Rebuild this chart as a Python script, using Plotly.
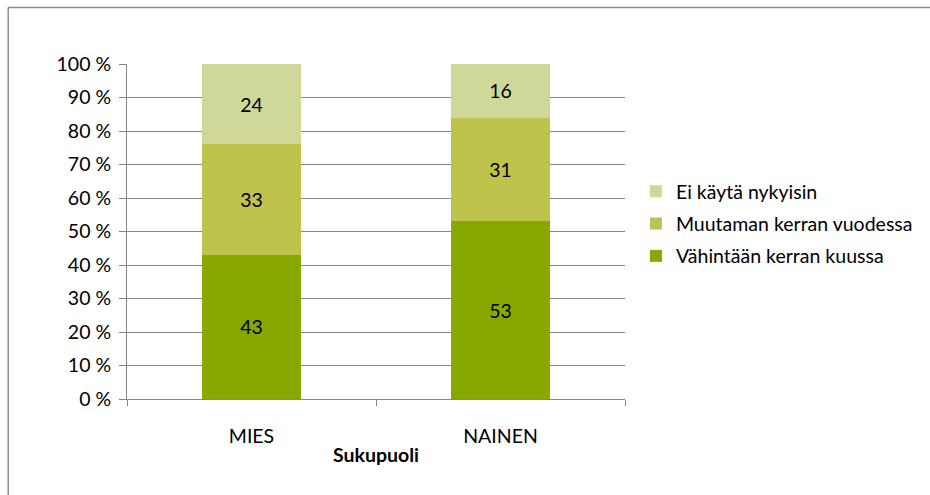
import plotly.graph_objects as go

categories = ["MIES", "NAINEN"]
series_names = ["Vähintään kerran kuussa", "Muutaman kerran vuodessa", "Ei käytä nykyisin"]
vahintaan = [43, 53]
muutaman = [33, 31]
ei_kayta = [24, 16]
colors = ["#87A800", "#BEC44B", "#CFD898"]
y_ticks = [0, 10, 20, 30, 40, 50, 60, 70, 80, 90, 100]
y_tick_labels = [f"{v} %" for v in y_ticks]

FONT = "Lato, Carlito, Calibri, sans-serif"
FS = 19.5

fig = go.Figure()
for i, (name, vals) in enumerate(zip(series_names, [vahintaan, muutaman, ei_kayta])):
    fig.add_trace(go.Bar(
        x=categories, y=vals, name=name,
        marker=dict(color=colors[i], line=dict(width=0)),
        text=[str(v) for v in vals], textposition="inside",
        insidetextanchor="middle",
        textfont=dict(family=FONT, size=FS, color="#000000"),
        legendgroup=f"g{i}", legendrank=1000 - i, hoverinfo="skip",
    ))

W, H = 930, 495
L, R, T, B = 127, 302, 64, 96
pw, ph = W - L - R, H - T - B

def px_x(x):
    return (x - L) / pw

def px_y(y):
    return (H - B - y) / ph

fig.update_layout(
    width=W, height=H,
    margin=dict(l=L, r=R, t=T, b=B),
    barmode="stack", bargap=0.605,
    paper_bgcolor="white", plot_bgcolor="white",
    font=dict(family=FONT, size=FS, color="#000000"),
    showlegend=True,
    legend=dict(
        x=px_x(639), y=px_y(172), xanchor="left", yanchor="top",
        traceorder="grouped", tracegroupgap=4,
        font=dict(family=FONT, size=FS, color="#000000"),
        bgcolor="rgba(0,0,0,0)", itemwidth=30,
    ),
    xaxis=dict(
        tickson="boundaries", ticks="outside", ticklen=6, tickcolor="#868686",
        showline=True, linecolor="#868686", linewidth=1,
        tickfont=dict(family=FONT, size=FS, color="#000000"),
        ticklabelstandoff=20,
        title=dict(text="<b>Sukupuoli</b>", font=dict(family=FONT, size=FS, color="#000000"), standoff=1),
        showgrid=False, fixedrange=True,
    ),
    yaxis=dict(
        range=[0, 100], tickvals=y_ticks, ticktext=y_tick_labels,
        ticks="outside", ticklen=7, tickcolor="#868686",
        showline=True, linecolor="#868686", linewidth=1,
        showgrid=True, gridcolor="#868686", gridwidth=1,
        tickfont=dict(family=FONT, size=FS, color="#000000"),
        ticklabelstandoff=4,
        zeroline=False, fixedrange=True,
    ),
    shapes=[
        dict(type="line", xref="paper", yref="paper",
             x0=px_x(7.5), x1=px_x(940), y0=px_y(7.5), y1=px_y(7.5),
             line=dict(color="#8C8C8C", width=1.5)),
        dict(type="line", xref="paper", yref="paper",
             x0=px_x(7.5), x1=px_x(7.5), y0=px_y(7.5), y1=px_y(505),
             line=dict(color="#8C8C8C", width=1.5)),
    ],
)

fig.write_html("out.html", config={"displayModeBar": False},
               post_script="document.body.style.margin='0px';document.body.style.padding='0px';")
